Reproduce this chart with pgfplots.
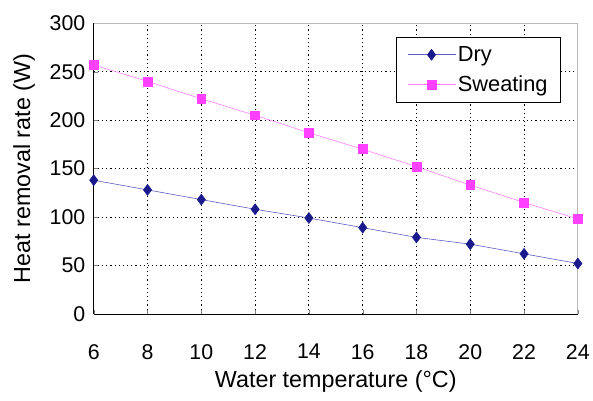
\documentclass[border=0pt]{standalone}
\usepackage{pgfplots}
\pgfplotsset{compat=1.18}
\usepackage{fontspec}
\setmainfont{Liberation Sans}
\definecolor{drym}{HTML}{1A1A8C}
\definecolor{dryl}{HTML}{5C5CC0}
\definecolor{swm}{HTML}{FF40FF}
\definecolor{swl}{HTML}{FF80FF}
\begin{document}
\begin{tikzpicture}
\begin{axis}[
  scale only axis,
  width=488pt, height=293pt,
  xmin=6, xmax=24, ymin=0, ymax=300,
  xtick={6,8,...,24}, ytick={0,50,...,300},
  axis x line*=bottom, axis y line*=left,
  tick align=inside,
  major tick length=4pt,
  grid=major,
  grid style={black, line width=0.8pt, dash pattern=on 1.2pt off 3pt},
  axis line style={black, line width=0.8pt},
  /pgf/number format/assume math mode=true,
  ticklabel style={font=\fontsize{21.5}{24}\selectfont},
  xticklabel style={yshift=-27pt},
  yticklabel style={xshift=-5pt},
  xlabel={Water temperature (°C)},
  ylabel={Heat removal rate (W)},
  label style={font=\fontsize{23.5}{26}\selectfont},
  xlabel style={yshift=-5pt},
  ylabel style={yshift=8pt},
  legend style={at={(0.965,0.952)}, anchor=north east, draw=black, line width=0.8pt,
    font=\fontsize{22}{25}\selectfont, inner xsep=11pt, inner ysep=7pt, row sep=9pt},
  legend cell align=left,
  legend image code/.code={
    \draw[mark repeat=2,mark phase=2] plot coordinates {(0cm,0cm) (0.85cm,0cm) (1.7cm,0cm)};
  },
]
\draw[gray!55, line width=0.8pt] (rel axis cs:0,1) -- (rel axis cs:1,1) -- (rel axis cs:1,0);
\addplot[color=dryl, line width=0.6pt, mark=diamond*, mark size=5.5pt,
  mark options={fill=drym, draw=drym}] coordinates {
  (6,138) (8,128) (10,118) (12,108) (14,99) (16,89) (18,79) (20,72) (22,62) (24,52)
};
\addlegendentry{Dry}
\addplot[color=swl, line width=0.6pt, mark=square*, mark size=4.5pt,
  mark options={fill=swm, draw=swm}] coordinates {
  (6,257) (8,240) (10,222) (12,205) (14,187) (16,170) (18,152) (20,133) (22,115) (24,98)
};
\addlegendentry{Sweating}
\end{axis}
\path ([xshift=-10pt,yshift=-4pt]current bounding box.south west) rectangle ([yshift=12.5pt]current bounding box.north east);
\end{tikzpicture}
\end{document}
